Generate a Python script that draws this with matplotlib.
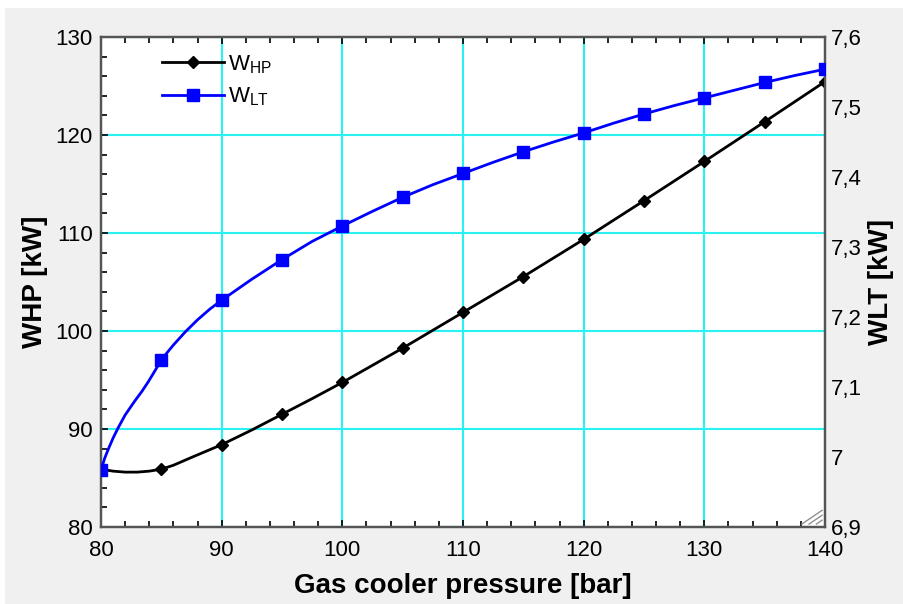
import matplotlib
matplotlib.use("Agg")
import matplotlib.pyplot as plt
from matplotlib.patches import Rectangle
from matplotlib.ticker import MultipleLocator, FixedLocator, FixedFormatter

plt.rcParams['font.family'] = ['Liberation Sans', 'DejaVu Sans']
plt.rcParams['mathtext.fontset'] = 'custom'
plt.rcParams['mathtext.rm'] = 'Liberation Sans'

# ---- data ----
# marker points (every 5 bar)
p_mark = [80, 85, 90, 95, 100, 105, 110, 115, 120, 125, 130, 135, 140]
whp_mark = [85.9, 85.9, 88.4, 91.5, 94.75, 98.25, 101.9, 105.55, 109.35, 113.3, 117.3, 121.35, 125.45]
wlt_mark = [6.981, 7.139, 7.224, 7.282, 7.330, 7.371, 7.405, 7.436, 7.463, 7.490, 7.513, 7.535, 7.554]

# line points (denser readings of the drawn curves)
p_line_hp = [80, 81, 82, 83, 84, 85, 86, 87.5, 90, 92.5, 95, 97.5, 100, 105, 110, 115, 120, 125, 130, 135, 140]
whp_line = [85.9, 85.7, 85.6, 85.6, 85.7, 85.9, 86.3, 87.1, 88.4, 89.9, 91.5, 93.1, 94.75, 98.25, 101.9,
            105.55, 109.35, 113.3, 117.3, 121.35, 125.45]
p_line_lt = [80, 80.3, 80.6, 81, 81.4, 82, 82.8, 83.4, 83.9, 84.5, 85, 86, 87, 88, 89, 90, 91, 92.5, 95,
             97.5, 100, 102.5, 105, 107.5, 110, 112.5, 115, 117.5, 120, 122.5, 125, 127.5, 130, 132.5,
             135, 137.5, 140]
wlt_line = [6.981, 6.998, 7.011, 7.027, 7.041, 7.060, 7.080, 7.094, 7.107, 7.124, 7.139, 7.160, 7.179,
            7.196, 7.211, 7.224, 7.236, 7.254, 7.282, 7.308, 7.330, 7.351, 7.371, 7.389, 7.405, 7.421,
            7.436, 7.450, 7.463, 7.477, 7.490, 7.502, 7.513, 7.524, 7.535, 7.545, 7.554]

right_ticks = [6.9, 7.0, 7.1, 7.2, 7.3, 7.4, 7.5, 7.6]
right_labels = ['6,9', '7', '7,1', '7,2', '7,3', '7,4', '7,5', '7,6']

W, H = 904, 604
fig = plt.figure(figsize=(W / 100, H / 100), dpi=100, facecolor='white')
fig.patches.append(Rectangle((5 / W, 0), 1, 596 / H, transform=fig.transFigure,
                             facecolor='#F0F0F0', edgecolor='none', zorder=-10))

ax = fig.add_axes([101 / W, 77 / H, 724 / W, 490 / H])
ax.set_facecolor('white')
ax2 = ax.twinx()

ax.set_xlim(80, 140)
ax.set_ylim(80, 130)
ax2.set_ylim(6.9, 7.6)

ax.xaxis.set_major_locator(MultipleLocator(10))
ax.xaxis.set_minor_locator(MultipleLocator(2))
ax.yaxis.set_major_locator(MultipleLocator(10))
ax.yaxis.set_minor_locator(MultipleLocator(2))

ax.grid(True, which='major', color='#2AF2F2', lw=1.5)
ax.set_axisbelow(True)

ax.tick_params(axis='both', which='both', direction='in', top=True, right=False,
               colors='#000000', labelsize=16, width=1.2)
ax.tick_params(axis='both', which='major', length=5)
ax.tick_params(axis='both', which='minor', length=4)
ax.tick_params(axis='x', pad=9)
ax.tick_params(axis='y', pad=6)

ax2.yaxis.set_major_locator(FixedLocator(right_ticks))
ax2.yaxis.set_major_formatter(FixedFormatter(right_labels))
ax2.tick_params(axis='y', length=0, labelsize=16, pad=4)

for a in (ax, ax2):
    for s in a.spines.values():
        s.set_color('#555555')
        s.set_linewidth(1.6)

# curves
ax.plot(p_line_hp, whp_line, color='black', lw=2, zorder=3)
ax.plot(p_mark, whp_mark, ls='none', marker='D', ms=6, color='black', zorder=4)
ax2.plot(p_line_lt, wlt_line, color='#0000FF', lw=2, zorder=3)
ax2.plot(p_mark, wlt_mark, ls='none', marker='s', ms=8, color='#0000FF', zorder=4)

# legend proxies
h1, = ax.plot([], [], color='black', lw=2, marker='D', ms=6)
h2, = ax.plot([], [], color='#0000FF', lw=2, marker='s', ms=8)
leg = ax2.legend([h1, h2], [r'W$_{\mathregular{HP}}$', r'W$_{\mathregular{LT}}$'],
                 loc='upper left', bbox_to_anchor=(0.072, 0.985), frameon=False,
                 fontsize=16, numpoints=1, handlelength=2.8, handletextpad=0.15,
                 labelspacing=0.45, borderaxespad=0)

ax.set_xlabel('Gas cooler pressure [bar]', fontsize=20, fontweight='bold')
ax.set_ylabel('WHP [kW]', fontsize=20, fontweight='bold')
ax2.set_ylabel('WLT [kW]', fontsize=20, fontweight='bold', rotation=90)
ax.xaxis.label.set_va('center')
ax.yaxis.label.set_va('center')
ax2.yaxis.label.set_va('center')
ax.xaxis.set_label_coords(0.5, (527 - 586) / 490)
ax.yaxis.set_label_coords((35 - 101) / 724, 0.5)
ax2.yaxis.set_label_coords((881 - 101) / 724, 0.5)

# resize grip in lower-right corner
for d in (0.012, 0.022, 0.032):
    ax.plot([1 - 0.004, 1 - d], [0.006 + d - 0.004, 0.006], transform=ax.transAxes,
            color='#909090', lw=1, clip_on=False, zorder=5)

fig.savefig('out.png', dpi=100, facecolor=fig.get_facecolor())
